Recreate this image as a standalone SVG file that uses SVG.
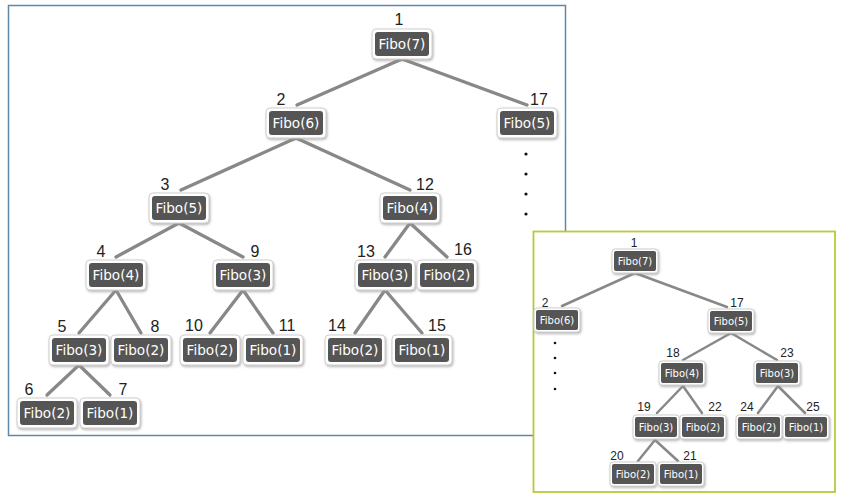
<svg xmlns="http://www.w3.org/2000/svg" width="850" height="502" viewBox="0 0 850 502">
<defs>
<filter id="sh" x="-20%" y="-20%" width="140%" height="150%">
<feDropShadow dx="1" dy="1.5" stdDeviation="1" flood-color="#999" flood-opacity="0.7"/>
</filter>
<style>
.frame1{fill:#fff;stroke:#5f87a8;stroke-width:1.5}
.frame2{fill:#fff;stroke:#b8c93a;stroke-width:1.8}
.c{stroke:#888;stroke-width:3.3;stroke-linecap:round;fill:none}
.cs{stroke:#888;stroke-width:2.5;stroke-linecap:round;fill:none}
.o{fill:#fff;stroke:#cfcfcf;stroke-width:1;filter:url(#sh)}
.i{fill:#555}
.t{font-family:"DejaVu Sans",sans-serif;font-size:13.6px;fill:#fff;text-anchor:middle}
.ts{font-family:"DejaVu Sans",sans-serif;font-size:10px;fill:#fff;text-anchor:middle}
.n{font-family:"Liberation Sans",Arial,sans-serif;font-size:16px;fill:#222;text-anchor:middle}
.ns{font-family:"Liberation Sans",Arial,sans-serif;font-size:12px;fill:#222;text-anchor:middle}
.dot{fill:#111}
</style>
</defs>
<rect class="frame1" x="8.5" y="5.5" width="557" height="430"/>

<g id="connectors-left">
<line class="c" x1="402" y1="59" x2="297" y2="105"/>
<line class="c" x1="402" y1="59" x2="527" y2="105"/>
<line class="c" x1="296" y1="138" x2="181" y2="190"/>
<line class="c" x1="296" y1="138" x2="410" y2="190"/>
<line class="c" x1="179" y1="223" x2="116" y2="257"/>
<line class="c" x1="179" y1="223" x2="243" y2="257"/>
<line class="c" x1="410" y1="223" x2="385" y2="257"/>
<line class="c" x1="410" y1="223" x2="447" y2="257"/>
<line class="c" x1="116" y1="290" x2="79" y2="333"/>
<line class="c" x1="116" y1="290" x2="141" y2="333"/>
<line class="c" x1="243" y1="290" x2="210" y2="333"/>
<line class="c" x1="243" y1="290" x2="273" y2="333"/>
<line class="c" x1="385" y1="290" x2="355" y2="333"/>
<line class="c" x1="385" y1="290" x2="422" y2="333"/>
<line class="c" x1="79" y1="365" x2="47" y2="395"/>
<line class="c" x1="79" y1="365" x2="110" y2="395"/>
</g>

<g id="n1"><rect class="o" x="372" y="29" width="60" height="30" rx="4"/><rect class="i" x="375" y="32" width="54" height="24" rx="3"/><text class="t" x="402" y="49">Fibo(7)</text><text class="n" x="399" y="25">1</text></g>
<g id="n2"><rect class="o" x="266" y="108" width="60" height="30" rx="4"/><rect class="i" x="269" y="111" width="54" height="24" rx="3"/><text class="t" x="296" y="128">Fibo(6)</text><text class="n" x="281" y="105">2</text></g>
<g id="n17"><rect class="o" x="497" y="108" width="60" height="30" rx="4"/><rect class="i" x="500" y="111" width="54" height="24" rx="3"/><text class="t" x="527" y="128">Fibo(5)</text><text class="n" x="539" y="105">17</text></g>
<g id="n3"><rect class="o" x="149" y="193" width="60" height="30" rx="4"/><rect class="i" x="152" y="196" width="54" height="24" rx="3"/><text class="t" x="179" y="213">Fibo(5)</text><text class="n" x="165" y="190">3</text></g>
<g id="n12"><rect class="o" x="380" y="193" width="60" height="30" rx="4"/><rect class="i" x="383" y="196" width="54" height="24" rx="3"/><text class="t" x="410" y="213">Fibo(4)</text><text class="n" x="425" y="190">12</text></g>
<g id="n4"><rect class="o" x="86" y="260" width="60" height="30" rx="4"/><rect class="i" x="89" y="263" width="54" height="24" rx="3"/><text class="t" x="116" y="280">Fibo(4)</text><text class="n" x="101" y="257">4</text></g>
<g id="n9"><rect class="o" x="213" y="260" width="60" height="30" rx="4"/><rect class="i" x="216" y="263" width="54" height="24" rx="3"/><text class="t" x="243" y="280">Fibo(3)</text><text class="n" x="255" y="257">9</text></g>
<g id="n13"><rect class="o" x="355" y="260" width="60" height="30" rx="4"/><rect class="i" x="358" y="263" width="54" height="24" rx="3"/><text class="t" x="385" y="280">Fibo(3)</text><text class="n" x="366" y="257">13</text></g>
<g id="n16"><rect class="o" x="417" y="260" width="60" height="30" rx="4"/><rect class="i" x="420" y="263" width="54" height="24" rx="3"/><text class="t" x="447" y="280">Fibo(2)</text><text class="n" x="463" y="255">16</text></g>
<g id="n5"><rect class="o" x="49" y="335" width="60" height="30" rx="4"/><rect class="i" x="52" y="338" width="54" height="24" rx="3"/><text class="t" x="79" y="355">Fibo(3)</text><text class="n" x="62" y="332">5</text></g>
<g id="n8"><rect class="o" x="111" y="335" width="60" height="30" rx="4"/><rect class="i" x="114" y="338" width="54" height="24" rx="3"/><text class="t" x="141" y="355">Fibo(2)</text><text class="n" x="155" y="332">8</text></g>
<g id="n10"><rect class="o" x="180" y="335" width="60" height="30" rx="4"/><rect class="i" x="183" y="338" width="54" height="24" rx="3"/><text class="t" x="210" y="355">Fibo(2)</text><text class="n" x="194" y="331">10</text></g>
<g id="n11"><rect class="o" x="243" y="335" width="60" height="30" rx="4"/><rect class="i" x="246" y="338" width="54" height="24" rx="3"/><text class="t" x="273" y="355">Fibo(1)</text><text class="n" x="287" y="331">11</text></g>
<g id="n14"><rect class="o" x="325" y="335" width="60" height="30" rx="4"/><rect class="i" x="328" y="338" width="54" height="24" rx="3"/><text class="t" x="355" y="355">Fibo(2)</text><text class="n" x="337" y="331">14</text></g>
<g id="n15"><rect class="o" x="392" y="335" width="60" height="30" rx="4"/><rect class="i" x="395" y="338" width="54" height="24" rx="3"/><text class="t" x="422" y="355">Fibo(1)</text><text class="n" x="437" y="331">15</text></g>
<g id="n6"><rect class="o" x="17" y="398" width="60" height="30" rx="4"/><rect class="i" x="20" y="401" width="54" height="24" rx="3"/><text class="t" x="47" y="418">Fibo(2)</text><text class="n" x="29" y="395">6</text></g>
<g id="n7"><rect class="o" x="80" y="398" width="60" height="30" rx="4"/><rect class="i" x="83" y="401" width="54" height="24" rx="3"/><text class="t" x="110" y="418">Fibo(1)</text><text class="n" x="123" y="395">7</text></g>

<g id="dots-left">
<circle class="dot" cx="526" cy="154" r="1.6"/>
<circle class="dot" cx="526" cy="174" r="1.6"/>
<circle class="dot" cx="526" cy="194" r="1.6"/>
<circle class="dot" cx="526" cy="214" r="1.6"/>
</g>

<rect class="frame2" x="533.5" y="231.5" width="301.5" height="260.5"/>

<g id="connectors-right">
<line class="cs" x1="635" y1="273" x2="562" y2="306"/>
<line class="cs" x1="635" y1="273" x2="727" y2="307"/>
<line class="cs" x1="731" y1="333" x2="683" y2="360"/>
<line class="cs" x1="731" y1="333" x2="777" y2="360"/>
<line class="cs" x1="683" y1="386" x2="657" y2="413"/>
<line class="cs" x1="683" y1="386" x2="702" y2="413"/>
<line class="cs" x1="778" y1="386" x2="758" y2="413"/>
<line class="cs" x1="778" y1="386" x2="805" y2="413"/>
<line class="cs" x1="655" y1="440" x2="638" y2="461"/>
<line class="cs" x1="655" y1="440" x2="678" y2="461"/>
</g>

<g id="s1"><rect class="o" x="612" y="249" width="46" height="24" rx="3"/><rect class="i" x="614" y="251" width="42" height="20" rx="2"/><text class="ts" x="635" y="264.5">Fibo(7)</text><text class="ns" x="634" y="247">1</text></g>
<g id="s2"><rect class="o" x="534" y="308" width="46" height="24" rx="3"/><rect class="i" x="536" y="310" width="42" height="20" rx="2"/><text class="ts" x="557" y="323.5">Fibo(6)</text><text class="ns" x="545" y="307">2</text></g>
<g id="s17"><rect class="o" x="708" y="309" width="46" height="24" rx="3"/><rect class="i" x="710" y="311" width="42" height="20" rx="2"/><text class="ts" x="731" y="324.5">Fibo(5)</text><text class="ns" x="737" y="307">17</text></g>
<g id="s18"><rect class="o" x="659" y="361" width="46" height="24" rx="3"/><rect class="i" x="661" y="363" width="42" height="20" rx="2"/><text class="ts" x="682" y="376.5">Fibo(4)</text><text class="ns" x="673" y="357">18</text></g>
<g id="s23"><rect class="o" x="754" y="361" width="46" height="24" rx="3"/><rect class="i" x="756" y="363" width="42" height="20" rx="2"/><text class="ts" x="777" y="376.5">Fibo(3)</text><text class="ns" x="787" y="357">23</text></g>
<g id="s19"><rect class="o" x="633" y="415" width="46" height="24" rx="3"/><rect class="i" x="635" y="417" width="42" height="20" rx="2"/><text class="ts" x="656" y="430.5">Fibo(3)</text><text class="ns" x="644" y="411">19</text></g>
<g id="s22"><rect class="o" x="680" y="415" width="46" height="24" rx="3"/><rect class="i" x="682" y="417" width="42" height="20" rx="2"/><text class="ts" x="703" y="430.5">Fibo(2)</text><text class="ns" x="715" y="411">22</text></g>
<g id="s24"><rect class="o" x="736" y="415" width="46" height="24" rx="3"/><rect class="i" x="738" y="417" width="42" height="20" rx="2"/><text class="ts" x="759" y="430.5">Fibo(2)</text><text class="ns" x="747" y="411">24</text></g>
<g id="s25"><rect class="o" x="783" y="415" width="46" height="24" rx="3"/><rect class="i" x="785" y="417" width="42" height="20" rx="2"/><text class="ts" x="806" y="430.5">Fibo(1)</text><text class="ns" x="813" y="411">25</text></g>
<g id="s20"><rect class="o" x="610" y="462" width="46" height="24" rx="3"/><rect class="i" x="612" y="464" width="42" height="20" rx="2"/><text class="ts" x="633" y="477.5">Fibo(2)</text><text class="ns" x="617" y="460">20</text></g>
<g id="s21"><rect class="o" x="658" y="462" width="46" height="24" rx="3"/><rect class="i" x="660" y="464" width="42" height="20" rx="2"/><text class="ts" x="681" y="477.5">Fibo(1)</text><text class="ns" x="690" y="460">21</text></g>

<g id="dots-right">
<circle class="dot" cx="555" cy="343" r="1.3"/>
<circle class="dot" cx="555" cy="358" r="1.3"/>
<circle class="dot" cx="555" cy="373" r="1.3"/>
<circle class="dot" cx="555" cy="389" r="1.3"/>
</g>
</svg>
